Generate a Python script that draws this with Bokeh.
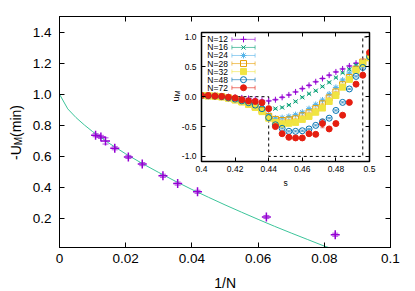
import math
from bokeh.plotting import figure
from bokeh.models import (Range1d, LinearAxis, FixedTicker, PrintfTickFormatter,
                          CustomJSTickFormatter, Whisker, TeeHead, ColumnDataSource)
from bokeh.embed import file_html
from bokeh.resources import INLINE
from bokeh.core.properties import value

FONT = "Liberation Sans"

# ---------------- main panel data ----------------
inv_n = [0.0109, 0.0125, 0.0139, 0.0167, 0.0208, 0.0250, 0.03125, 0.0357, 0.0417, 0.0625, 0.0833]
u_min = [0.737, 0.726, 0.700, 0.653, 0.597, 0.551, 0.476, 0.426, 0.373, 0.211, 0.097]
u_min_err = [0.01, 0.01, 0.02, 0.01, 0.01, 0.01, 0.01, 0.01, 0.01, 0.01, 0.01]

fit_x = [0.0, 0.0025, 0.005, 0.0075, 0.01, 0.015, 0.02, 0.025, 0.03, 0.035, 0.04,
         0.045, 0.05, 0.055, 0.06, 0.065, 0.07, 0.075, 0.08, 0.0835]
fit_y = [1.0, 0.906, 0.850, 0.803, 0.760, 0.685, 0.617, 0.555, 0.497, 0.441, 0.388,
         0.338, 0.289, 0.242, 0.196, 0.151, 0.108, 0.066, 0.024, 0.0]

main_x_ticks = [0, 0.02, 0.04, 0.06, 0.08, 0.1]
main_y_ticks = [0.2, 0.4, 0.6, 0.8, 1.0, 1.2, 1.4]

# ---------------- inset data ----------------
s_vals = [0.400, 0.404, 0.408, 0.412, 0.416, 0.420, 0.424, 0.428, 0.432, 0.436, 0.440, 0.444, 0.448,
          0.452, 0.456, 0.460, 0.464, 0.468, 0.472, 0.476, 0.480, 0.484, 0.488, 0.492, 0.496, 0.500]
series_labels = ["N=12", "N=16", "N=24", "N=28", "N=32", "N=48", "N=72"]
u_n12 = [0.02, 0.02, 0.015, 0.01, 0.0, -0.01, -0.02, -0.03, -0.045, -0.06, -0.07, -0.05, -0.01,
         0.03, 0.08, 0.135, 0.19, 0.25, 0.305, 0.36, 0.415, 0.465, 0.515, 0.56, 0.60, 0.68]
u_n16 = [0.02, 0.02, 0.01, 0.0, -0.01, -0.03, -0.05, -0.08, -0.11, -0.15, -0.20, -0.20, -0.18,
         -0.14, -0.08, -0.01, 0.05, 0.10, 0.17, 0.24, 0.32, 0.40, 0.46, 0.53, 0.57, 0.68]
u_n24 = [0.02, 0.015, 0.01, 0.0, -0.02, -0.04, -0.07, -0.10, -0.15, -0.20, -0.30, -0.36, -0.35,
         -0.33, -0.30, -0.26, -0.20, -0.13, -0.055, 0.045, 0.155, 0.28, 0.395, 0.49, 0.57, 0.68]
u_n28 = [0.02, 0.015, 0.01, 0.0, -0.02, -0.05, -0.08, -0.12, -0.17, -0.23, -0.33, -0.38, -0.40,
         -0.39, -0.37, -0.32, -0.27, -0.20, -0.12, -0.02, 0.08, 0.20, 0.32, 0.46, 0.58, 0.66]
u_n32 = [0.02, 0.015, 0.005, -0.005, -0.025, -0.055, -0.09, -0.13, -0.18, -0.25, -0.36, -0.43, -0.455,
         -0.445, -0.43, -0.38, -0.33, -0.26, -0.19, -0.08, 0.02, 0.16, 0.29, 0.44, 0.555, 0.65]
u_n48 = [0.02, 0.015, 0.01, 0.0, -0.02, -0.04, -0.07, -0.10, -0.14, -0.20, -0.35, -0.47, -0.53,
         -0.58, -0.58, -0.57, -0.54, -0.48, -0.42, -0.36, -0.23, -0.095, 0.13, 0.34, 0.49, 0.67]
u_n72 = [0.02, 0.02, 0.01, 0.005, -0.01, -0.02, -0.05, -0.07, -0.08, -0.10, -0.20, -0.50, -0.62,
         -0.68, -0.69, -0.69, -0.62, -0.63, -0.45, -0.54, -0.45, -0.31, -0.095, 0.21, 0.36, 0.74]
err_small = [0.01] * 26
err_n72 = [0.01, 0.01, 0.01, 0.01, 0.01, 0.01, 0.01, 0.01, 0.01, 0.01, 0.02, 0.02, 0.02,
           0.02, 0.02, 0.02, 0.02, 0.03, 0.07, 0.02, 0.02, 0.02, 0.02, 0.02, 0.04, 0.02]

window_s = [0.4, 0.44, 0.44, 0.496, 0.496, 0.5]
window_u = [0.0, 0.0, -1.0, -1.0, 1.0, 1.0]

inset_x_ticks = [0.4, 0.42, 0.44, 0.46, 0.48, 0.5]
inset_y_ticks = [-1.0, -0.5, 0.0, 0.5, 1.0]

# styles
colors = ["#9400d3", "#009e73", "#56b4e9", "#e69f00", "#f0e442", "#0072b2", "#e51e10"]
markers = ["cross", "x", "asterisk", "square", "square", "circle", "circle"]
filled = [False, False, False, False, True, False, True]
sizes = [6, 6, 6, 6, 6, 6, 6]
series_u = [u_n12, u_n16, u_n24, u_n28, u_n32, u_n48, u_n72]
series_e = [err_small, err_small, err_small, err_small, err_small, err_small, err_n72]

trim_fmt = CustomJSTickFormatter(code="return Number(tick.toFixed(4)).toString();")
blank_fmt = CustomJSTickFormatter(code="return '';")

# page geometry (pixels)
PAGE_W, PAGE_H = 410, 291
INSET_LEFT, INSET_TOP = 160, 29
INSET_BORDERS = dict(left=41, right=9, top=3, bottom=29)
INSET_FRAME_W, INSET_FRAME_H = 168, 129
INSET_W = INSET_BORDERS["left"] + INSET_FRAME_W + INSET_BORDERS["right"]
INSET_H = INSET_BORDERS["top"] + INSET_FRAME_H + INSET_BORDERS["bottom"]


def style_axis(ax, font_size, standoff, tick=5):
    ax.axis_line_color = "black"
    ax.major_tick_in = tick
    ax.major_tick_out = 0
    ax.minor_tick_line_color = None
    ax.major_tick_line_color = "black"
    ax.major_label_text_font = FONT
    ax.major_label_text_font_size = font_size
    ax.major_label_text_color = "black"
    ax.major_label_standoff = standoff


# ---------------- main figure ----------------
p = figure(width=PAGE_W, height=PAGE_H, x_range=Range1d(0, 0.1), y_range=Range1d(0.015, 1.5),
           output_backend="svg", toolbar_location=None,
           min_border_left=59, min_border_right=20, min_border_top=16, min_border_bottom=44)
p.grid.visible = False
p.outline_line_color = "black"
p.background_fill_color = "white"
p.xaxis.ticker = FixedTicker(ticks=main_x_ticks)
p.xaxis.formatter = trim_fmt
p.yaxis.ticker = FixedTicker(ticks=main_y_ticks)
p.yaxis.formatter = PrintfTickFormatter(format="%.1f")
style_axis(p.xaxis[0], "13.5px", 6)
style_axis(p.yaxis[0], "13.5px", 8)

top_ax = LinearAxis(ticker=FixedTicker(ticks=main_x_ticks), formatter=blank_fmt)
right_ax = LinearAxis(ticker=FixedTicker(ticks=main_y_ticks), formatter=blank_fmt)
for ax in (top_ax, right_ax):
    style_axis(ax, "1px", 0)
p.add_layout(top_ax, "above")
p.add_layout(right_ax, "right")

p.line(fit_x, fit_y, line_color="#3cc49a", line_width=1)
main_src = ColumnDataSource(dict(x=inv_n, y=u_min,
                                 lo=[a - b for a, b in zip(u_min, u_min_err)],
                                 hi=[a + b for a, b in zip(u_min, u_min_err)]))
p.add_layout(Whisker(source=main_src, base="x", lower="lo", upper="hi", dimension="height",
                     line_color="#9400d3", line_alpha=0.7, line_width=1,
                     lower_head=TeeHead(size=6, line_color="#9400d3", line_alpha=0.7),
                     upper_head=TeeHead(size=6, line_color="#9400d3", line_alpha=0.7)))
p.scatter("x", "y", source=main_src, marker="cross", size=9, line_color="#9400d3", line_width=1.5)

# ---------------- inset figure ----------------
q = figure(width=INSET_W, height=INSET_H, x_range=Range1d(0.4, 0.5), y_range=Range1d(-1.085, 1.075),
           output_backend="svg", toolbar_location=None,
           min_border_left=INSET_BORDERS["left"], min_border_right=INSET_BORDERS["right"],
           min_border_top=INSET_BORDERS["top"], min_border_bottom=INSET_BORDERS["bottom"],
           margin=(INSET_TOP - PAGE_H, 0, 0, INSET_LEFT))
q.grid.visible = False
q.outline_line_color = "black"
q.outline_line_width = 1.5
q.background_fill_color = "white"
q.border_fill_alpha = 0
q.xaxis.ticker = FixedTicker(ticks=inset_x_ticks)
q.xaxis.formatter = trim_fmt
q.yaxis.ticker = FixedTicker(ticks=inset_y_ticks)
q.yaxis.formatter = PrintfTickFormatter(format="%.1f")
style_axis(q.xaxis[0], "8.5px", 4, tick=4)
style_axis(q.yaxis[0], "8.5px", 5, tick=4)
q_top = LinearAxis(ticker=FixedTicker(ticks=inset_x_ticks), formatter=blank_fmt)
q_right = LinearAxis(ticker=FixedTicker(ticks=inset_y_ticks), formatter=blank_fmt)
for ax in (q_top, q_right):
    style_axis(ax, "1px", 0, tick=4)
q.add_layout(q_top, "above")
q.add_layout(q_right, "right")

q.line(window_s, window_u, line_color="black", line_width=1, line_dash="3 3")

for lab, col, mk, fl, sz, uu, ee in zip(series_labels, colors, markers, filled, sizes, series_u, series_e):
    src = ColumnDataSource(dict(s=s_vals, u=uu,
                                lo=[a - b for a, b in zip(uu, ee)],
                                hi=[a + b for a, b in zip(uu, ee)]))
    q.add_layout(Whisker(source=src, base="s", lower="lo", upper="hi", dimension="height",
                         line_color=col, line_alpha=0.6, line_width=1,
                         lower_head=TeeHead(size=4, line_color=col, line_alpha=0.6),
                         upper_head=TeeHead(size=4, line_color=col, line_alpha=0.6)))
    q.scatter("s", "u", source=src, marker=mk, size=sz, line_color=col, line_width=1,
              fill_color=col if fl else None)

# legend (gnuplot style: label, then line sample with error caps and marker)
leg_top = 0.96
leg_step = 0.135
leg_text_s = 0.4157
leg_line_s0 = 0.4181
leg_line_s1 = 0.4319
leg_mark_s = 0.425
leg_cap = 0.035
for i, (lab, col, mk, fl, sz) in enumerate(zip(series_labels, colors, markers, filled, sizes)):
    uy = leg_top - i * leg_step
    q.text(x=[leg_text_s], y=[uy], text=[lab], text_font=value(FONT), text_font_size="8.5px",
           text_align="right", text_baseline="middle", text_color="black")
    q.segment(x0=[leg_line_s0, leg_line_s0, leg_line_s1], y0=[uy, uy - leg_cap, uy - leg_cap],
              x1=[leg_line_s1, leg_line_s0, leg_line_s1], y1=[uy, uy + leg_cap, uy + leg_cap],
              line_color=col, line_alpha=0.6, line_width=1)
    q.scatter(x=[leg_mark_s], y=[uy], marker=mk, size=sz, line_color=col, line_width=1,
              fill_color=col if fl else None)

# ---------------- overlay for axis titles (page pixel coordinates) ----------------
o = figure(width=PAGE_W, height=PAGE_H, x_range=Range1d(0, PAGE_W), y_range=Range1d(PAGE_H, 0),
           output_backend="svg", toolbar_location=None, x_axis_location=None, y_axis_location=None,
           min_border=0, margin=(-(INSET_TOP + INSET_H), 0, 0, 0))
o.grid.visible = False
o.outline_line_color = None
o.background_fill_alpha = 0
o.border_fill_alpha = 0

title_parts = [
    # text, x, y, size, angle, align
    ("-U", 15.3, 159.5, "14px", math.pi / 2, "left"),
    ("M", 18.3, 144.7, "10px", math.pi / 2, "left"),
    ("(min)", 15.3, 136.4, "14px", math.pi / 2, "left"),
    ("1/N", 224.7, 282.0, "14px", 0.0, "center"),
    ("u", 175.0, 101.0, "9.5px", math.pi / 2, "left"),
    ("M", 177.0, 95.7, "7px", math.pi / 2, "left"),
    ("s", 285.0, 182.0, "8.5px", 0.0, "center"),
]
for t, tx, ty, fs, ang, al in title_parts:
    o.text(x=[tx], y=[ty], text=[t], angle=ang, text_font=value(FONT), text_font_size=fs,
           text_align=al, text_baseline="alphabetic", text_color="black")

open("out.html", "w").write(file_html([p, q, o], INLINE))
